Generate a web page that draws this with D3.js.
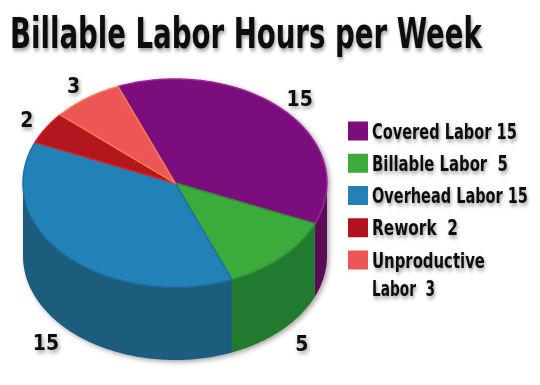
<!DOCTYPE html>
<html>
<head>
<meta charset="utf-8">
<script src="https://cdn.jsdelivr.net/npm/d3@7"></script>
<style>
  body { margin: 0; background: #fff; }
  svg { display: block; }
</style>
</head>
<body>
<svg width="540" height="385"></svg>
<script>
const categories = ['Covered Labor', 'Billable Labor', 'Overhead Labor', 'Rework', 'Unproductive Labor'];
const hours = [15, 5, 15, 2, 3];
const legendLines = [['Covered Labor 15'], ['Billable Labor  5'], ['Overhead Labor 15'], ['Rework  2'], ['Unproductive', 'Labor  3']];
const legendWidths = [[145], [136], [156], [86], [113, 63]];
const topColors = ['#7b0e7c', '#3bab3a', '#2381b6', '#b3121d', '#ee5556'];
const sideColors = ['#5a0d57', '#227a2e', '#1c5b7c', '#8a0e16', '#c04040'];
const rimColors = ['#9a2a96', '#2f9233', '#1f72a3', '#e0201f', '#f47a50'];

const svg = d3.select('svg');
const cx = 175;
const cy = 183;
const rx = 152;
const ry = 104;
const depth = 73;
const font = "'DejaVu Sans Condensed', 'Liberation Sans Narrow', sans-serif";

const defs = svg.append('defs');
const shadow = defs.append('filter').attr('id', 'shadow')
  .attr('x', '-10%').attr('y', '-10%').attr('width', '130%').attr('height', '130%');
shadow.append('feDropShadow').attr('dx', 2).attr('dy', 2).attr('stdDeviation', 2.5)
  .attr('flood-color', '#000').attr('flood-opacity', 0.35);
const tshadow = defs.append('filter').attr('id', 'tshadow')
  .attr('x', '-10%').attr('y', '-30%').attr('width', '120%').attr('height', '170%');
tshadow.append('feDropShadow').attr('dx', 1.5).attr('dy', 2.5).attr('stdDeviation', 2)
  .attr('flood-color', '#000').attr('flood-opacity', 0.4);

// squeeze a text horizontally so it spans `w` px from its anchor
const squeeze = (sel, x, y, w) => {
  sel.attr('x', 0).attr('y', 0);
  const nat = sel.node().getComputedTextLength();
  const k = Math.min(1, w / nat);
  sel.attr('transform', `translate(${x},${y}) scale(${k},1)`);
};

// title
const title = svg.append('text')
  .attr('font-family', font)
  .attr('font-weight', 'bold')
  .attr('font-size', 42)
  .attr('fill', '#111')
  .attr('filter', 'url(#tshadow)')
  .text('Billable Labor Hours per Week');
squeeze(title, 10, 48, 472);

const pie = d3.pie().sort(null)
  .startAngle(-22 * Math.PI / 180)
  .endAngle(338 * Math.PI / 180);
const arcs = pie(hours);

// angle measured clockwise from top, on the ellipse
const pt = (a, k = 1, dz = 0) => [cx + k * rx * Math.sin(a), cy - k * ry * Math.cos(a) + dz];

const arcPts = (a0, a1, dz) => {
  const n = Math.max(2, Math.ceil(Math.abs(a1 - a0) / 0.02));
  return d3.range(n + 1).map(i => pt(a0 + (a1 - a0) * i / n, 1, dz));
};

const topPath = (d) => {
  const p = arcPts(d.startAngle, d.endAngle, 0);
  return `M${cx},${cy}L${p.map(q => q.join(',')).join('L')}Z`;
};

const sidePath = (d) => {
  const lo = Math.PI / 2;
  const hi = 3 * Math.PI / 2;
  const a0 = Math.max(d.startAngle, lo);
  const a1 = Math.min(d.endAngle, hi);
  if (a1 <= a0) return null;
  const p = arcPts(a0, a1, 0).concat(arcPts(a1, a0, depth));
  return `M${p.map(q => q.join(',')).join('L')}Z`;
};

const pieG = svg.append('g').attr('filter', 'url(#shadow)');

pieG.append('g').attr('class', 'sides')
  .selectAll('path')
  .data(arcs.filter(d => sidePath(d)))
  .enter()
  .append('path')
  .attr('d', sidePath)
  .attr('fill', d => sideColors[d.index]);

pieG.append('g').attr('class', 'tops')
  .selectAll('path')
  .data(arcs)
  .enter()
  .append('path')
  .attr('d', topPath)
  .attr('fill', d => topColors[d.index])
  .attr('stroke', d => rimColors[d.index])
  .attr('stroke-width', 1.5)
  .attr('stroke-linejoin', 'round');

// value labels
const labelPos = (d) => {
  const a = (d.startAngle + d.endAngle) / 2;
  const front = Math.cos(a) < 0;
  return pt(a, front ? 1.19 : 1.15, front ? depth : 0);
};

svg.append('g').attr('class', 'values')
  .selectAll('text')
  .data(arcs)
  .enter()
  .append('text')
  .attr('x', d => labelPos(d)[0])
  .attr('y', d => labelPos(d)[1])
  .attr('text-anchor', 'middle')
  .attr('dominant-baseline', 'central')
  .attr('font-family', font)
  .attr('font-weight', 'bold')
  .attr('font-size', 21)
  .attr('fill', '#111')
  .attr('filter', 'url(#tshadow)')
  .text(d => d.data);

// legend
const legend = svg.append('g').attr('class', 'legend');
const rowY = d3.scalePoint().domain(d3.range(categories.length)).range([131, 260]);

const rows = legend.selectAll('g')
  .data(categories)
  .enter()
  .append('g')
  .attr('transform', (d, i) => `translate(348,${rowY(i)})`);

rows.append('rect')
  .attr('x', 0).attr('y', -9.5)
  .attr('width', 20).attr('height', 19)
  .attr('fill', (d, i) => topColors[i]);

rows.each(function (d, i) {
  d3.select(this).selectAll('text.line')
    .data(legendLines[i])
    .enter()
    .append('text')
    .attr('class', 'line')
    .attr('font-family', font)
    .attr('font-weight', 'bold')
    .attr('font-size', 21)
    .attr('fill', '#111')
    .attr('filter', 'url(#tshadow)')
    .style('white-space', 'pre')
    .text(t => t)
    .each(function (t, j) {
      squeeze(d3.select(this), 24, 7.5 + j * 28, legendWidths[i][j]);
    });
});
</script>
</body>
</html>
